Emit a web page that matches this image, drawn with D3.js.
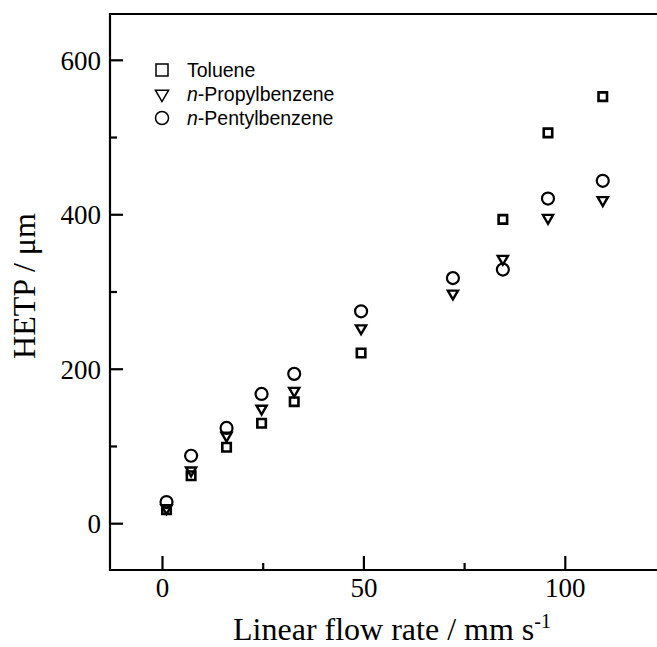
<!DOCTYPE html>
<html>
<head>
<meta charset="utf-8">
<script src="https://cdn.jsdelivr.net/npm/d3@7"></script>
<style>
  body { margin: 0; background: #fff; }
</style>
</head>
<body>
<script>
// HETP vs linear flow rate, three solutes

var flowRate   = [1.0, 7.1, 15.9, 24.6, 32.7, 49.3, 72.1, 84.5, 95.7, 109.3];
var toluene    = [18, 62, 99, 130, 158, 221, null, 394, 506, 553];
var propylbenz = [20, 69, 114, 149, 172, 253, 298, 343, 396, 419];
var pentylbenz = [28, 88, 124, 168, 194, 275, 318, 329, 421, 444];

var seriesNames = ["Toluene", "-Propylbenzene", "-Pentylbenzene"];
var seriesPrefix = ["", "n", "n"];
var xTicks = [0, 50, 100];
var xMinor = [25, 75];
var yTicks = [0, 200, 400, 600];
var yMinor = [100, 300, 500];

var W = 657, H = 647;
var plotLeft = 110, plotTop = 14, plotBottom = 570;

var svg = d3.select("body").append("svg")
    .attr("width", W)
    .attr("height", H);

// scales
var x = d3.scaleLinear().domain([0, 100]).range([162.5, 565.3]);
var y = d3.scaleLinear().domain([0, 600]).range([523.7, 60.3]);

// frame (right side runs off the picture)
svg.append("path")
    .attr("d", "M" + W + "," + plotTop + "H" + plotLeft + "V" + plotBottom + "H" + W)
    .attr("fill", "none")
    .attr("stroke", "#000")
    .attr("stroke-width", 2.2);

// y ticks
svg.selectAll(".ytick")
    .data(yTicks)
    .enter().append("line")
    .attr("x1", plotLeft).attr("x2", plotLeft + 13)
    .attr("y1", function(d){ return y(d); })
    .attr("y2", function(d){ return y(d); })
    .attr("stroke", "#000").attr("stroke-width", 2.2);

svg.selectAll(".yminor")
    .data(yMinor)
    .enter().append("line")
    .attr("x1", plotLeft).attr("x2", plotLeft + 7)
    .attr("y1", function(d){ return y(d); })
    .attr("y2", function(d){ return y(d); })
    .attr("stroke", "#000").attr("stroke-width", 2.2);

svg.selectAll(".ylab")
    .data(yTicks)
    .enter().append("text")
    .attr("x", plotLeft - 9)
    .attr("y", function(d){ return y(d); })
    .attr("dy", "0.35em")
    .attr("text-anchor", "end")
    .style("font-family", "Liberation Serif, Times New Roman, serif")
    .style("font-size", "27px")
    .text(function(d){ return d; });

// x ticks
svg.selectAll(".xtick")
    .data(xTicks)
    .enter().append("line")
    .attr("x1", function(d){ return x(d); })
    .attr("x2", function(d){ return x(d); })
    .attr("y1", plotBottom).attr("y2", plotBottom - 14)
    .attr("stroke", "#000").attr("stroke-width", 2.2);

svg.selectAll(".xminor")
    .data(xMinor)
    .enter().append("line")
    .attr("x1", function(d){ return x(d); })
    .attr("x2", function(d){ return x(d); })
    .attr("y1", plotBottom).attr("y2", plotBottom - 7)
    .attr("stroke", "#000").attr("stroke-width", 2.2);

svg.selectAll(".xlab")
    .data(xTicks)
    .enter().append("text")
    .attr("x", function(d){ return x(d); })
    .attr("y", 597)
    .attr("text-anchor", "middle")
    .style("font-family", "Liberation Serif, Times New Roman, serif")
    .style("font-size", "27px")
    .text(function(d){ return d; });

// axis titles
svg.append("text")
    .attr("transform", "translate(35,286) rotate(-90)")
    .attr("text-anchor", "middle")
    .attr("fill", "#000")
    .style("font-family", "Liberation Serif, Times New Roman, serif")
    .style("font-size", "32px")
    .text("HETP / \u03bcm");

var xt = svg.append("text")
    .attr("x", 392)
    .attr("y", 640)
    .attr("text-anchor", "middle")
    .style("font-family", "Liberation Serif, Times New Roman, serif")
    .style("font-size", "32px");
xt.append("tspan").text("Linear flow rate / mm s");
xt.append("tspan").attr("dy", -12).style("font-size", "20px").text("-1");

// markers
var shapes = [d3.symbolSquare, d3.symbolTriangle, d3.symbolCircle];
var sizes = [72, 45, 113];
var rot = [0, 180, 0];
var widths = [2.6, 2.4, 2.2];
var allSeries = [toluene, propylbenz, pentylbenz];

allSeries.forEach(function(vals, i){
    var pts = flowRate.map(function(f, j){ return {x: f, y: vals[j]}; })
        .filter(function(d){ return d.y != null; });
    svg.selectAll(".m" + i)
        .data(pts)
        .enter().append("path")
        .attr("d", d3.symbol().type(shapes[i]).size(sizes[i]))
        .attr("transform", function(d){
            return "translate(" + x(d.x) + "," + y(d.y) + ") rotate(" + rot[i] + ")";
        })
        .attr("fill", "none")
        .attr("stroke", "#000")
        .attr("stroke-width", widths[i]);
});

// legend
var legSizes = [144, 75, 133];
seriesNames.forEach(function(name, i){
    var ly = 70 + i * 24;
    svg.append("path")
        .attr("d", d3.symbol().type(shapes[i]).size(legSizes[i]))
        .attr("transform", "translate(162," + ly + ") rotate(" + rot[i] + ")")
        .attr("fill", "none")
        .attr("stroke", "#000")
        .attr("stroke-width", 1.5);
    var t = svg.append("text")
        .attr("x", 187)
        .attr("y", ly)
        .attr("dy", "0.36em")
        .style("font-family", "Liberation Sans, Arial, sans-serif")
        .style("font-size", "19.5px");
    if (seriesPrefix[i]) t.append("tspan").style("font-style", "italic").text(seriesPrefix[i]);
    t.append("tspan").text(name);
});
</script>
</body>
</html>
